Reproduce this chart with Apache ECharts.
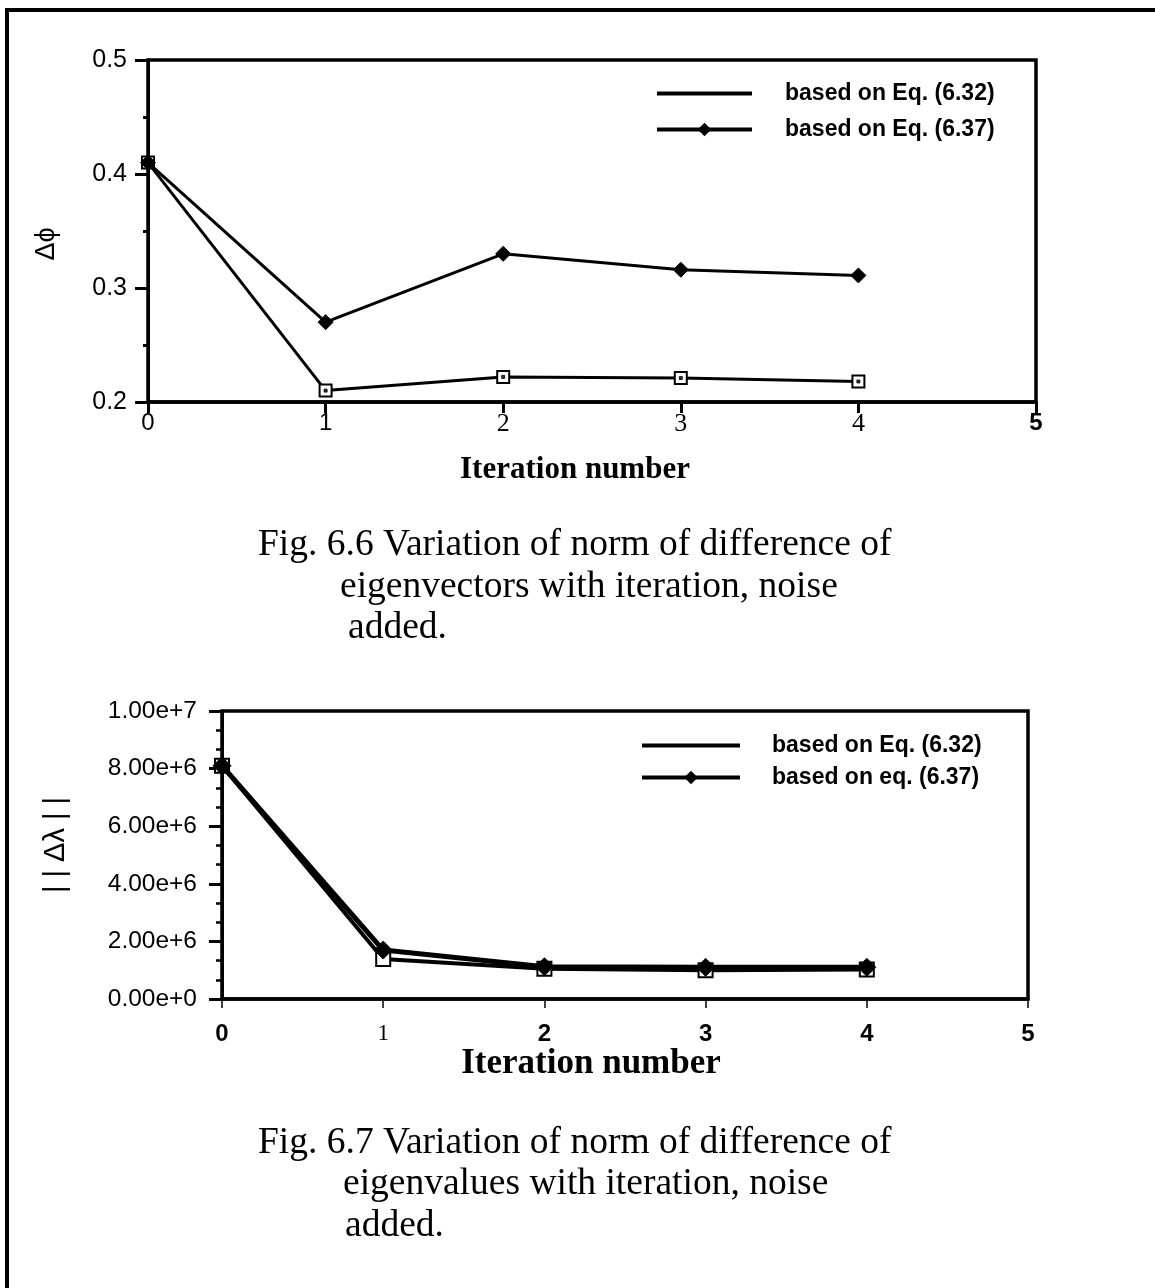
<!DOCTYPE html>
<html>
<head>
<meta charset="utf-8">
<script src="https://cdn.jsdelivr.net/npm/echarts@6/dist/echarts.min.js"></script>
<style>
  html, body { margin: 0; padding: 0; background: #fff; }
  #chart { width: 1155px; height: 1288px; }
</style>
</head>
<body>
<div id="chart"></div>
<script>
// Iteration numbers shared by both plots
const iterations = [0, 1, 2, 3, 4];

// Fig. 6.6: norm of eigenvector difference
const phiEq632 = [0.41, 0.210, 0.222, 0.221, 0.218];
const phiEq637 = [0.41, 0.270, 0.330, 0.316, 0.311];

// Fig. 6.7: norm of eigenvalue difference
const lamEq632 = [8.1e6, 1.39e6, 1.05e6, 1.00e6, 1.02e6];
const lamEq637 = [8.1e6, 1.70e6, 1.12e6, 1.10e6, 1.10e6];

// Tick labels
const xTickLabels = ['0', '1', '2', '3', '4', '5'];
const phiTickLabels = ['0.2', '0.3', '0.4', '0.5'];
const lamTickLabels = ['0.00e+0', '2.00e+6', '4.00e+6', '6.00e+6', '8.00e+6', '1.00e+7'];

// Legend / series names
const namesTop = ['based on Eq. (6.32)', 'based on Eq. (6.37)'];
const namesBottom = ['based on Eq. (6.32)', 'based on eq. (6.37)'];

// Captions
const captionTop = ['Fig. 6.6 Variation of norm of difference of', 'eigenvectors with iteration, noise', 'added.'];
const captionBottom = ['Fig. 6.7 Variation of norm of difference of', 'eigenvalues with iteration, noise', 'added.'];

const pair = (xs, ys) => xs.map((x, i) => [x, ys[i]]);

const SANS = 'Liberation Sans, Arial, sans-serif';
const NARROW = 'Liberation Sans Narrow, Liberation Sans, Arial, sans-serif';
const SERIF = 'Liberation Serif, Times New Roman, serif';

// typefaces of the x tick labels, as typeset in the two plots
const topTickFace = ['a', 'a', 's', 's', 's', 'b'];
const bottomTickFace = ['n', 's', 'n', 'n', 'n', 'n'];

const chart = echarts.init(document.getElementById('chart'), null, { renderer: 'canvas' });

const blackItem = { color: '#000', borderColor: '#000' };
const CAPTION_FONT = '37.5px ' + SERIF;

const option = {
  backgroundColor: '#fff',
  animation: false,
  grid: [
    { left: 148, top: 60, width: 888, height: 342, show: true, borderColor: '#000', borderWidth: 3.5, backgroundColor: 'transparent' },
    { left: 222, top: 711, width: 806, height: 288, show: true, borderColor: '#000', borderWidth: 3.5, backgroundColor: 'transparent' }
  ],
  legend: [
    {
      orient: 'vertical', left: 655, top: 82, padding: 0, itemWidth: 95, itemHeight: 17, itemGap: 13,
      lineStyle: { width: 4 },
      textStyle: { fontFamily: SANS, fontWeight: 'bold', fontSize: 23, color: '#000', padding: [0, 0, 0, 28] },
      selectedMode: false,
      data: [
        { name: namesTop[0], itemStyle: { opacity: 0 } },
        { name: namesTop[1] }
      ]
    },
    {
      orient: 'vertical', left: 640, top: 734, padding: 0, itemWidth: 98, itemHeight: 17, itemGap: 9,
      lineStyle: { width: 4 },
      textStyle: { fontFamily: SANS, fontWeight: 'bold', fontSize: 23, color: '#000', padding: [0, 0, 0, 27] },
      selectedMode: false,
      data: [
        { name: namesBottom[0], itemStyle: { opacity: 0 } },
        { name: namesBottom[1] }
      ]
    }
  ],
  xAxis: [
    {
      gridIndex: 0, type: 'value', min: 0, max: 5, interval: 1,
      name: 'Iteration number', nameLocation: 'middle', nameGap: 52,
      nameTextStyle: { fontFamily: SERIF, fontWeight: 'bold', fontSize: 31, color: '#000', padding: [0, 34, 0, 0] },
      axisLine: { lineStyle: { color: '#000', width: 3.5 } },
      axisTick: { show: true, length: 11, lineStyle: { color: '#000', width: 3 } },
      splitLine: { show: false },
      axisLabel: {
        margin: 9,
        formatter: v => '{' + topTickFace[Math.round(v)] + '|' + xTickLabels[Math.round(v)] + '}',
        rich: {
          a: { fontFamily: SANS, fontSize: 24, color: '#000' },
          s: { fontFamily: SERIF, fontSize: 26, color: '#000' },
          b: { fontFamily: SANS, fontSize: 24, fontWeight: 'bold', color: '#000' }
        }
      }
    },
    {
      gridIndex: 1, type: 'value', min: 0, max: 5, interval: 1,
      name: 'Iteration number', nameLocation: 'middle', nameGap: 45,
      nameTextStyle: { fontFamily: SERIF, fontWeight: 'bold', fontSize: 35, color: '#000', padding: [0, 68, 0, 0] },
      axisLine: { lineStyle: { color: '#000', width: 3.5 } },
      axisTick: { show: true, length: 9, lineStyle: { color: '#000', width: 1.5 } },
      splitLine: { show: false },
      axisLabel: {
        margin: 23,
        formatter: v => '{' + bottomTickFace[Math.round(v)] + '|' + xTickLabels[Math.round(v)] + '}',
        rich: {
          n: { fontFamily: NARROW, fontSize: 24, fontWeight: 'bold', color: '#000' },
          s: { fontFamily: SERIF, fontSize: 23, color: '#000' }
        }
      }
    }
  ],
  yAxis: [
    {
      gridIndex: 0, type: 'value', min: 0.2, max: 0.5, interval: 0.1,
      name: 'Δϕ', nameLocation: 'middle', nameGap: 88, nameRotate: 90,
      nameTextStyle: { fontFamily: SANS, fontSize: 27, color: '#000', padding: [0, 26, 0, 0] },
      axisLine: { lineStyle: { color: '#000', width: 3 } },
      axisTick: { show: true, length: 13, lineStyle: { color: '#000', width: 3 } },
      minorTick: { show: true, splitNumber: 2, length: 5, lineStyle: { color: '#000', width: 3 } },
      splitLine: { show: false },
      axisLabel: {
        margin: 21, fontFamily: SANS, fontSize: 25, color: '#000',
        formatter: v => phiTickLabels[Math.round((v - 0.2) / 0.1)]
      }
    },
    {
      gridIndex: 1, type: 'value', min: 0, max: 1e7, interval: 2e6,
      name: '| | Δλ | |', nameLocation: 'middle', nameGap: 152, nameRotate: 90,
      nameTextStyle: { fontFamily: SANS, fontSize: 29, color: '#000', padding: [0, 0, 0, 20] },
      axisLine: { lineStyle: { color: '#000', width: 3 } },
      axisTick: { show: true, length: 13, lineStyle: { color: '#000', width: 3 } },
      minorTick: { show: true, splitNumber: 3, length: 6, lineStyle: { color: '#000', width: 2.5 } },
      splitLine: { show: false },
      axisLabel: {
        margin: 25, fontFamily: SANS, fontSize: 24.5, color: '#000',
        formatter: v => lamTickLabels[Math.round(v / 2e6)]
      }
    }
  ],
  series: [
    {
      name: namesTop[0], type: 'line', xAxisIndex: 0, yAxisIndex: 0,
      data: pair(iterations, phiEq632),
      symbol: 'emptyRect', symbolSize: 12,
      lineStyle: { color: '#000', width: 3 },
      itemStyle: { color: '#000', borderColor: '#000', borderWidth: 3 }, z: 2
    },
    {
      // centre dot inside each open square
      type: 'scatter', xAxisIndex: 0, yAxisIndex: 0, silent: true,
      data: pair(iterations, phiEq632),
      symbol: 'rect', symbolSize: 3,
      itemStyle: blackItem, z: 3
    },
    {
      name: namesTop[1], type: 'line', xAxisIndex: 0, yAxisIndex: 0,
      data: pair(iterations, phiEq637),
      symbol: 'diamond', symbolSize: 15,
      lineStyle: { color: '#000', width: 3 },
      itemStyle: blackItem, z: 4
    },
    {
      name: namesBottom[0], type: 'line', xAxisIndex: 1, yAxisIndex: 1,
      data: pair(iterations, lamEq632),
      symbol: 'emptyRect', symbolSize: 14,
      lineStyle: { color: '#000', width: 4 },
      itemStyle: { color: '#000', borderColor: '#000', borderWidth: 4 }, z: 2
    },
    {
      name: namesBottom[1], type: 'line', xAxisIndex: 1, yAxisIndex: 1,
      data: pair(iterations, lamEq637),
      symbol: 'diamond', symbolSize: 18,
      lineStyle: { color: '#000', width: 5 },
      itemStyle: blackItem, z: 3
    }
  ],
  graphic: [
    // page frame
    { type: 'line', shape: { x1: 7, y1: 8, x2: 7, y2: 1288 }, style: { stroke: '#000', lineWidth: 4 }, silent: true },
    { type: 'line', shape: { x1: 5, y1: 10, x2: 1155, y2: 10 }, style: { stroke: '#000', lineWidth: 4 }, silent: true },
    // captions
    { type: 'text', left: 258, top: 526, style: { text: captionTop[0], font: CAPTION_FONT, fill: '#000' }, silent: true },
    { type: 'text', left: 340, top: 568, style: { text: captionTop[1], font: CAPTION_FONT, fill: '#000' }, silent: true },
    { type: 'text', left: 348, top: 609, style: { text: captionTop[2], font: CAPTION_FONT, fill: '#000' }, silent: true },
    { type: 'text', left: 258, top: 1124, style: { text: captionBottom[0], font: CAPTION_FONT, fill: '#000' }, silent: true },
    { type: 'text', left: 343, top: 1165, style: { text: captionBottom[1], font: CAPTION_FONT, fill: '#000' }, silent: true },
    { type: 'text', left: 345, top: 1207, style: { text: captionBottom[2], font: CAPTION_FONT, fill: '#000' }, silent: true }
  ]
};

chart.setOption(option);
</script>
</body>
</html>
